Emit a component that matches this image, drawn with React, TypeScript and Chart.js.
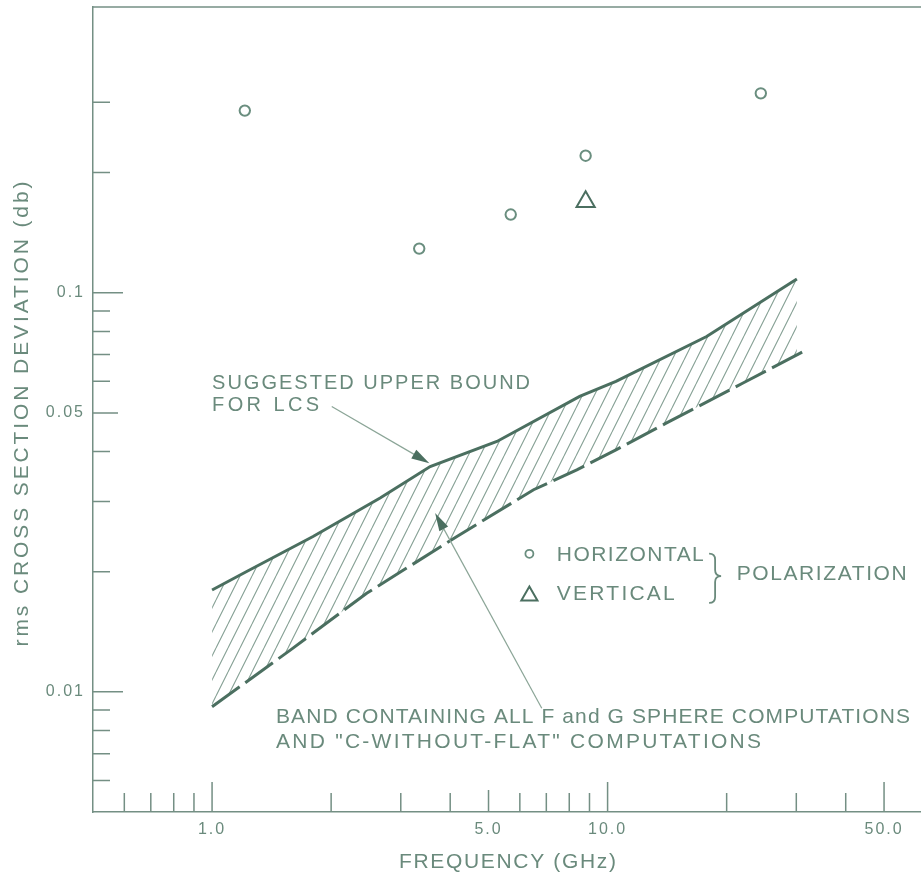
import React, { useEffect, useRef } from 'react';
import { Chart, registerables } from 'chart.js';

Chart.register(...registerables);

// ---- data (frequency in GHz, rms cross section deviation in db) ----
const UPPER_FREQ = [1.0, 1.22, 1.8, 2.66, 3.56, 5.25, 8.5, 10.5, 17.8, 30.1];
const UPPER_DEV = [0.018, 0.02, 0.0245, 0.0306, 0.0367, 0.0424, 0.055, 0.06, 0.0777, 0.1083];
const LOWER_FREQ = [1.0, 1.58, 2.46, 4.16, 6.5, 8.36, 10.5, 14.1, 22.0, 31.9];
const LOWER_DEV = [0.00918, 0.01274, 0.01767, 0.0245, 0.0321, 0.036, 0.0404, 0.0472, 0.0594, 0.072];
const HORIZ_FREQ = [1.21, 3.34, 5.69, 8.8, 24.4];
const HORIZ_DEV = [0.286, 0.129, 0.157, 0.2205, 0.316];
const VERT_FREQ = [8.8];
const VERT_DEV = [0.169];

const X_TICKS = [1, 5, 10, 50];
const X_TICK_LABELS = ['1.0', '5.0', '10.0', '50.0'];
const X_MINOR = [0.6, 0.7, 0.8, 0.9, 2, 3, 4, 6, 7, 8, 9, 20, 30, 40];
const Y_TICKS = [0.01, 0.05, 0.1];
const Y_TICK_LABELS = ['0.01', '0.05', '0.1'];
const Y_MINOR = [0.006, 0.007, 0.008, 0.009, 0.02, 0.03, 0.04, 0.06, 0.07, 0.08, 0.09, 0.2, 0.3];

// ---- styles ----
const LINE = '#4b6f60';
const AXIS = '#748f84';
const TEXT = '#6a8a7c';
const HATCH = '#86a195';
const POINT = '#6a8e7f';
const FONT = '"Liberation Sans", Arial, sans-serif';

// annotation anchors (left edge / cap-centre, in data space) and lettered widths
const NOTES = [
  { text: 'SUGGESTED UPPER BOUND', f: 1.0, v: 0.0598, width: 318, size: 20 },
  { text: 'FOR LCS', f: 1.0, v: 0.0527, width: 107, size: 20 },
  { text: 'BAND CONTAINING ALL F and G SPHERE COMPUTATIONS', f: 1.451, v: 0.00873, width: 634, size: 21 },
  { text: 'AND "C-WITHOUT-FLAT" COMPUTATIONS', f: 1.451, v: 0.00756, width: 485, size: 21 },
  { text: 'HORIZONTAL', f: 7.44, v: 0.02223, width: 147, size: 21 },
  { text: 'VERTICAL', f: 7.44, v: 0.0177, width: 118, size: 21 },
  { text: 'POLARIZATION', f: 21.2, v: 0.01993, width: 170, size: 21 },
];
const ARROWS = [
  { from: [2.007, 0.0519], to: [3.543, 0.0374] },
  { from: [6.817, 0.0091], to: [3.664, 0.02805] },
];

function makeHatch(): CanvasPattern | string {
  const w = 12, h = 24;
  const c = document.createElement('canvas');
  c.width = w; c.height = h;
  const g = c.getContext('2d');
  if (!g) return 'rgba(0,0,0,0)';
  g.strokeStyle = HATCH;
  g.lineWidth = 1.1;
  g.beginPath();
  for (const dx of [-w, 0, w]) { g.moveTo(dx, h); g.lineTo(dx + w, 0); }
  g.stroke();
  return g.createPattern(c, 'repeat') || 'rgba(0,0,0,0)';
}

function drawFitted(ctx: CanvasRenderingContext2D, text: string, x: number, capMid: number, width: number, size: number) {
  ctx.font = `${size}px ${FONT}`;
  (ctx as any).letterSpacing = '0px';
  const w0 = ctx.measureText(text).width;
  const n = Array.from(text).length;
  const ls = n > 1 ? (width - w0) / (n - 1) : 0;
  (ctx as any).letterSpacing = `${ls}px`;
  ctx.textAlign = 'left';
  ctx.textBaseline = 'alphabetic';
  ctx.fillText(text, x, capMid + size * 0.716 / 2);
  (ctx as any).letterSpacing = '0px';
}

function drawArrow(ctx: CanvasRenderingContext2D, x1: number, y1: number, x2: number, y2: number, head: number, half: number) {
  const a = Math.atan2(y2 - y1, x2 - x1);
  const c = Math.cos(a), s = Math.sin(a);
  ctx.strokeStyle = '#8ba597';
  ctx.lineWidth = 1.2;
  ctx.beginPath();
  ctx.moveTo(x1, y1);
  ctx.lineTo(x2 - c * head * 0.7, y2 - s * head * 0.7);
  ctx.stroke();
  ctx.fillStyle = LINE;
  ctx.beginPath();
  ctx.moveTo(x2, y2);
  ctx.lineTo(x2 - c * head + s * half, y2 - s * head - c * half);
  ctx.lineTo(x2 - c * head - s * half, y2 - s * head + c * half);
  ctx.closePath();
  ctx.fill();
}

const decor = {
  id: 'decor',
  beforeDraw(chart: any) {
    const ctx: CanvasRenderingContext2D = chart.ctx;
    ctx.save();
    ctx.fillStyle = '#ffffff';
    ctx.fillRect(0, 0, chart.width, chart.height);
    ctx.restore();
    (ctx as any).letterSpacing = '2px';
  },
  afterDraw(chart: any) {
    const ctx: CanvasRenderingContext2D = chart.ctx;
    (ctx as any).letterSpacing = '0px';
    const xs = chart.scales.x, ys = chart.scales.y;
    const { left, right, top, bottom } = chart.chartArea;
    const px = (f: number) => xs.getPixelForValue(f);
    const py = (v: number) => ys.getPixelForValue(v);
    ctx.save();
    // frame top line
    ctx.strokeStyle = AXIS;
    ctx.lineWidth = 1.5;
    ctx.beginPath();
    ctx.moveTo(left, top);
    ctx.lineTo(right, top);
    ctx.stroke();
    // inward tick marks
    ctx.beginPath();
    for (const v of Y_MINOR) { const y = py(v); ctx.moveTo(left, y); ctx.lineTo(left + 17, y); }
    for (const v of Y_TICKS) { const y = py(v); const l = v === 0.05 ? 25 : 30; ctx.moveTo(left, y); ctx.lineTo(left + l, y); }
    for (const f of X_MINOR) { const x = px(f); ctx.moveTo(x, bottom); ctx.lineTo(x, bottom - 19); }
    for (const f of X_TICKS) { const x = px(f); const l = f === 5 ? 22 : 30; ctx.moveTo(x, bottom); ctx.lineTo(x, bottom - l); }
    ctx.stroke();

    // annotations
    ctx.fillStyle = TEXT;
    for (const n of NOTES) drawFitted(ctx, n.text, px(n.f), py(n.v), n.width, n.size);
    for (const a of ARROWS) drawArrow(ctx, px(a.from[0]), py(a.from[1]), px(a.to[0]), py(a.to[1]), 18, 5);

    // legend symbols
    ctx.strokeStyle = POINT;
    ctx.lineWidth = 1.8;
    ctx.beginPath();
    ctx.arc(px(6.343), py(0.02218), 4, 0, Math.PI * 2);
    ctx.stroke();
    const tx = px(6.343), ty = py(0.0174), r = 9.3;
    ctx.strokeStyle = LINE;
    ctx.lineWidth = 2;
    ctx.beginPath();
    for (let k = 0; k < 3; k++) {
      const ang = k * 2 * Math.PI / 3;
      const X = tx + Math.sin(ang) * r, Y = ty - Math.cos(ang) * r;
      if (k === 0) ctx.moveTo(X, Y); else ctx.lineTo(X, Y);
    }
    ctx.closePath();
    ctx.stroke();
    // brace
    const bx = px(18.7), bt = py(0.0222), bb = py(0.0167), bm = py(0.0195);
    ctx.strokeStyle = TEXT;
    ctx.lineWidth = 1.8;
    ctx.beginPath();
    ctx.moveTo(bx - 6, bt);
    ctx.quadraticCurveTo(bx, bt, bx, bt + 6);
    ctx.lineTo(bx, bm - 6);
    ctx.quadraticCurveTo(bx, bm, bx + 6, bm);
    ctx.quadraticCurveTo(bx, bm, bx, bm + 6);
    ctx.lineTo(bx, bb - 6);
    ctx.quadraticCurveTo(bx, bb, bx - 6, bb);
    ctx.stroke();

    // axis titles
    ctx.fillStyle = TEXT;
    drawFitted(ctx, 'FREQUENCY (GHz)', (left + right) / 2 - 108, bottom + 48, 217, 21);
    ctx.save();
    ctx.translate(20.5, (top + bottom) / 2 + 5);
    ctx.rotate(-Math.PI / 2);
    drawFitted(ctx, 'rms CROSS SECTION DEVIATION (db)', -232, 0, 465, 21);
    ctx.restore();
    ctx.restore();
  },
};

export default function App() {
  const ref = useRef<HTMLCanvasElement | null>(null);
  useEffect(() => {
    if (!ref.current) return;
    const hatch = makeHatch();
    const pts = (fs: number[], vs: number[]) => fs.map((f, i) => ({ x: f, y: vs[i] }));
    const chart = new Chart(ref.current, {
      type: 'line',
      data: {
        datasets: [
          {
            label: 'Suggested upper bound for LCS',
            data: pts(UPPER_FREQ, UPPER_DEV),
            borderColor: LINE,
            borderWidth: 3,
            pointRadius: 0,
            tension: 0,
            fill: '+1',
            backgroundColor: hatch as any,
          },
          {
            label: 'Band lower edge',
            data: pts(LOWER_FREQ, LOWER_DEV),
            borderColor: LINE,
            borderWidth: 3,
            borderDash: [34, 7],
            pointRadius: 0,
            tension: 0,
            fill: false,
          },
          {
            label: 'Horizontal',
            data: pts(HORIZ_FREQ, HORIZ_DEV),
            showLine: false,
            pointStyle: 'circle',
            pointRadius: 5.2,
            pointBorderWidth: 2,
            pointBorderColor: POINT,
            pointBackgroundColor: 'rgba(0,0,0,0)',
          },
          {
            label: 'Vertical',
            data: pts(VERT_FREQ, VERT_DEV),
            showLine: false,
            pointStyle: 'triangle',
            pointRadius: 10.5,
            pointBorderWidth: 2,
            pointBorderColor: LINE,
            pointBackgroundColor: 'rgba(0,0,0,0)',
          },
        ] as any,
      },
      options: {
        animation: false,
        responsive: true,
        maintainAspectRatio: false,
        events: [],
        layout: { autoPadding: false, padding: { top: 7, left: 0, right: 0, bottom: 0 } },
        plugins: {
          legend: { display: false },
          tooltip: { enabled: false },
          filler: { drawTime: 'beforeDatasetsDraw' },
        } as any,
        scales: {
          x: {
            type: 'logarithmic',
            position: 'bottom',
            min: 0.5,
            max: 62,
            grid: { display: false, drawTicks: false },
            border: { display: true, color: AXIS, width: 1.5 },
            ticks: {
              color: TEXT,
              font: { family: FONT, size: 16 },
              padding: 8,
              autoSkip: false,
              maxRotation: 0,
              callback: (_v: any, i: number) => X_TICK_LABELS[i] ?? '',
            },
            afterBuildTicks: (s: any) => { s.ticks = X_TICKS.map((v) => ({ value: v })); },
            afterFit: (s: any) => { s.height = 64; s.paddingLeft = 0; s.paddingRight = 0; s.paddingTop = 0; s.paddingBottom = 0; },
          },
          y: {
            type: 'logarithmic',
            position: 'left',
            min: 0.005,
            max: 0.52,
            grid: { display: false, drawTicks: false },
            border: { display: true, color: AXIS, width: 1.5 },
            ticks: {
              color: TEXT,
              font: { family: FONT, size: 16 },
              padding: 8,
              autoSkip: false,
              callback: (_v: any, i: number) => Y_TICK_LABELS[i] ?? '',
            },
            afterBuildTicks: (s: any) => { s.ticks = Y_TICKS.map((v) => ({ value: v })); },
            afterFit: (s: any) => { s.width = 93; s.paddingLeft = 0; s.paddingRight = 0; s.paddingTop = 0; s.paddingBottom = 0; },
          },
        } as any,
      },
      plugins: [decor],
    });
    return () => chart.destroy();
  }, []);
  return (
    <div style={{ position: 'fixed', left: 0, top: 0, width: 921, height: 876, background: '#fff' }}>
      <canvas ref={ref} />
    </div>
  );
}
